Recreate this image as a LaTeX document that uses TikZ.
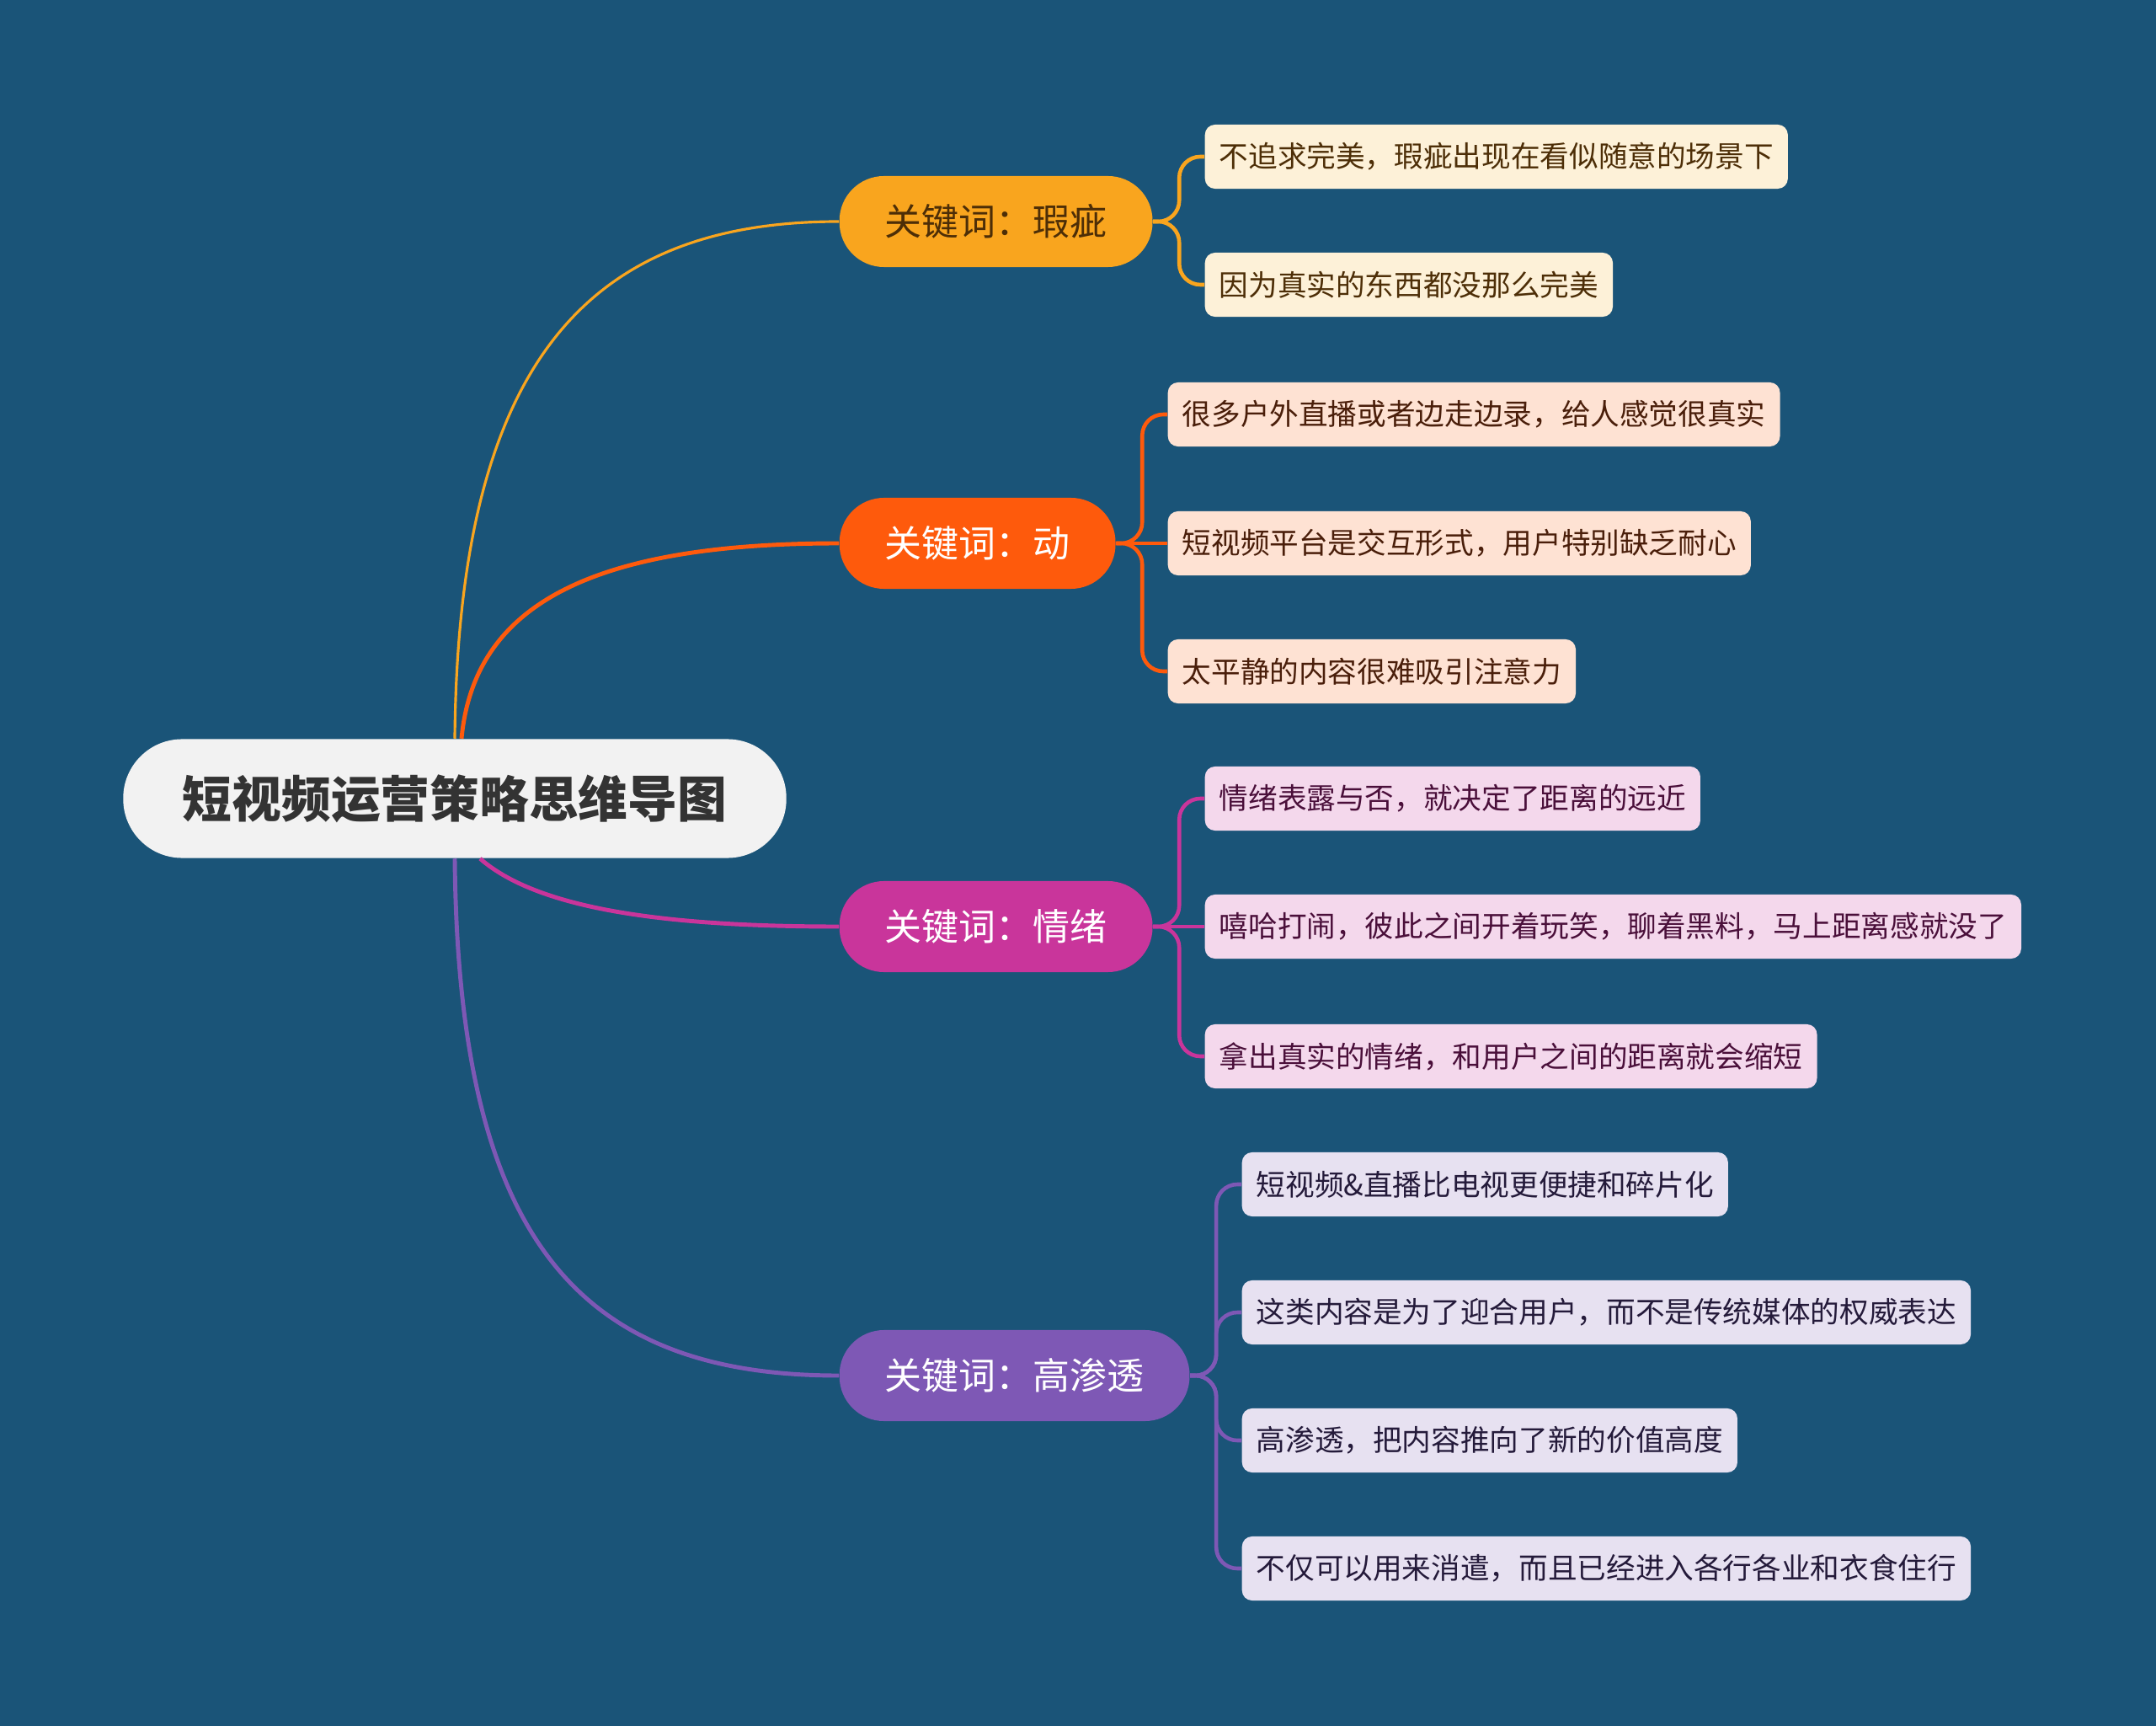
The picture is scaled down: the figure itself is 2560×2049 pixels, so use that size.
\documentclass[tikz,border=0pt]{standalone}
\usepackage{fontspec}
\setmainfont{Noto Sans CJK SC}
\usepackage{tikz}
\usetikzlibrary{positioning,calc}
\definecolor{BgBlue}{HTML}{1A5478}
\definecolor{RootGray}{HTML}{F2F2F2}
\definecolor{RootInk}{HTML}{333333}
\definecolor{OrangeMain}{HTML}{F9A51E}
\definecolor{OrangeLeaf}{HTML}{FDF1D8}
\definecolor{OrangeInk}{HTML}{4D2E07}
\definecolor{RedMain}{HTML}{FE5A0C}
\definecolor{RedLeaf}{HTML}{FEE2D3}
\definecolor{RedInk}{HTML}{4A1E0A}
\definecolor{PinkMain}{HTML}{C9359B}
\definecolor{PinkLeaf}{HTML}{F4D8EC}
\definecolor{PinkInk}{HTML}{4A0F3A}
\definecolor{PurpleMain}{HTML}{7E58B5}
\definecolor{PurpleLeaf}{HTML}{E7E1F1}
\definecolor{PurpleInk}{HTML}{241A3A}

\begin{document}
\begin{tikzpicture}[x=0.01cm, y=-0.01cm,
  root/.style={fill=RootGray, text=RootInk, rounded corners=7mm, minimum height=14.1mm, minimum width=78.7mm, inner xsep=1mm, font=\fontsize{16.7pt}{19pt}\selectfont\bfseries},
  topic/.style={rounded corners=5.3mm, minimum height=10.8mm, inner xsep=5.4mm, anchor=west, font=\fontsize{12.5pt}{14pt}\selectfont},
  leaf/.style={rounded corners=1.2mm, minimum height=7.6mm, inner xsep=1.7mm, anchor=west, font=\fontsize{9.85pt}{12pt}\selectfont},
  curve/.style={line width=1.4pt},
  bracket/.style={line width=1.3pt, rounded corners=2.5mm}]
\fill[BgBlue] (0,0) rectangle (2560,2049);
\useasboundingbox (0,0) rectangle (2560,2049);

\node[root] (root) at (540,948) {短视频运营策略思维导图};

\node[topic, fill=OrangeMain, text=OrangeInk] (flaw) at (996,263) {关键词：瑕疵};
\node[topic, fill=RedMain, text=white] (move) at (996,645) {关键词：动};
\node[topic, fill=PinkMain, text=white] (mood) at (996,1100) {关键词：情绪};
\node[topic, fill=PurpleMain, text=white] (reach) at (996,1633) {关键词：高渗透};

\node[leaf, fill=OrangeLeaf, text=OrangeInk] (flaw1) at (1430,186) {不追求完美，瑕疵出现在看似随意的场景下};
\node[leaf, fill=OrangeLeaf, text=OrangeInk] (flaw2) at (1430,338) {因为真实的东西都没那么完美};

\node[leaf, fill=RedLeaf, text=RedInk] (move1) at (1386,492) {很多户外直播或者边走边录，给人感觉很真实};
\node[leaf, fill=RedLeaf, text=RedInk] (move2) at (1386,645) {短视频平台是交互形式，用户特别缺乏耐心};
\node[leaf, fill=RedLeaf, text=RedInk] (move3) at (1386,797) {太平静的内容很难吸引注意力};

\node[leaf, fill=PinkLeaf, text=PinkInk] (mood1) at (1430,948) {情绪表露与否，就决定了距离的远近};
\node[leaf, fill=PinkLeaf, text=PinkInk] (mood2) at (1430,1100) {嘻哈打闹，彼此之间开着玩笑，聊着黑料，马上距离感就没了};
\node[leaf, fill=PinkLeaf, text=PinkInk] (mood3) at (1430,1254) {拿出真实的情绪，和用户之间的距离就会缩短};

\node[leaf, fill=PurpleLeaf, text=PurpleInk] (reach1) at (1474,1406) {短视频\&直播比电视更便捷和碎片化};
\node[leaf, fill=PurpleLeaf, text=PurpleInk] (reach2) at (1474,1558) {这类内容是为了迎合用户，而不是传统媒体的权威表达};
\node[leaf, fill=PurpleLeaf, text=PurpleInk] (reach3) at (1474,1710) {高渗透，把内容推向了新的价值高度};
\node[leaf, fill=PurpleLeaf, text=PurpleInk] (reach4) at (1474,1862) {不仅可以用来消遣，而且已经进入各行各业和衣食住行};

% root to topics
\draw[curve, OrangeMain, line width=0.9pt] (root.north) .. controls (544,425) and (702,263) .. (flaw.west);
\draw[curve, RedMain] ($(root.north)+(8,0)$) .. controls (563,718) and (702,645) .. (move.west);
\draw[curve, PinkMain] ($(root.south)+(30,0)$) .. controls (637,1078) and (784,1100) .. (mood.west);
\draw[curve, PurpleMain] (root.south) .. controls (544,1470) and (686,1633) .. (reach.west);

% topics to leaves
\foreach \a/\b/\c in {flaw/flaw1/OrangeMain,flaw/flaw2/OrangeMain,move/move1/RedMain,move/move3/RedMain,mood/mood1/PinkMain,mood/mood3/PinkMain,reach/reach1/PurpleMain,reach/reach2/PurpleMain,reach/reach3/PurpleMain,reach/reach4/PurpleMain}
  \draw[bracket, \c] (\a.east) -- ++(31,0) |- (\b.west);
\draw[bracket, RedMain] (move.east) -- (move2.west);
\draw[bracket, PinkMain] (mood.east) -- (mood2.west);
\end{tikzpicture}
\end{document}
